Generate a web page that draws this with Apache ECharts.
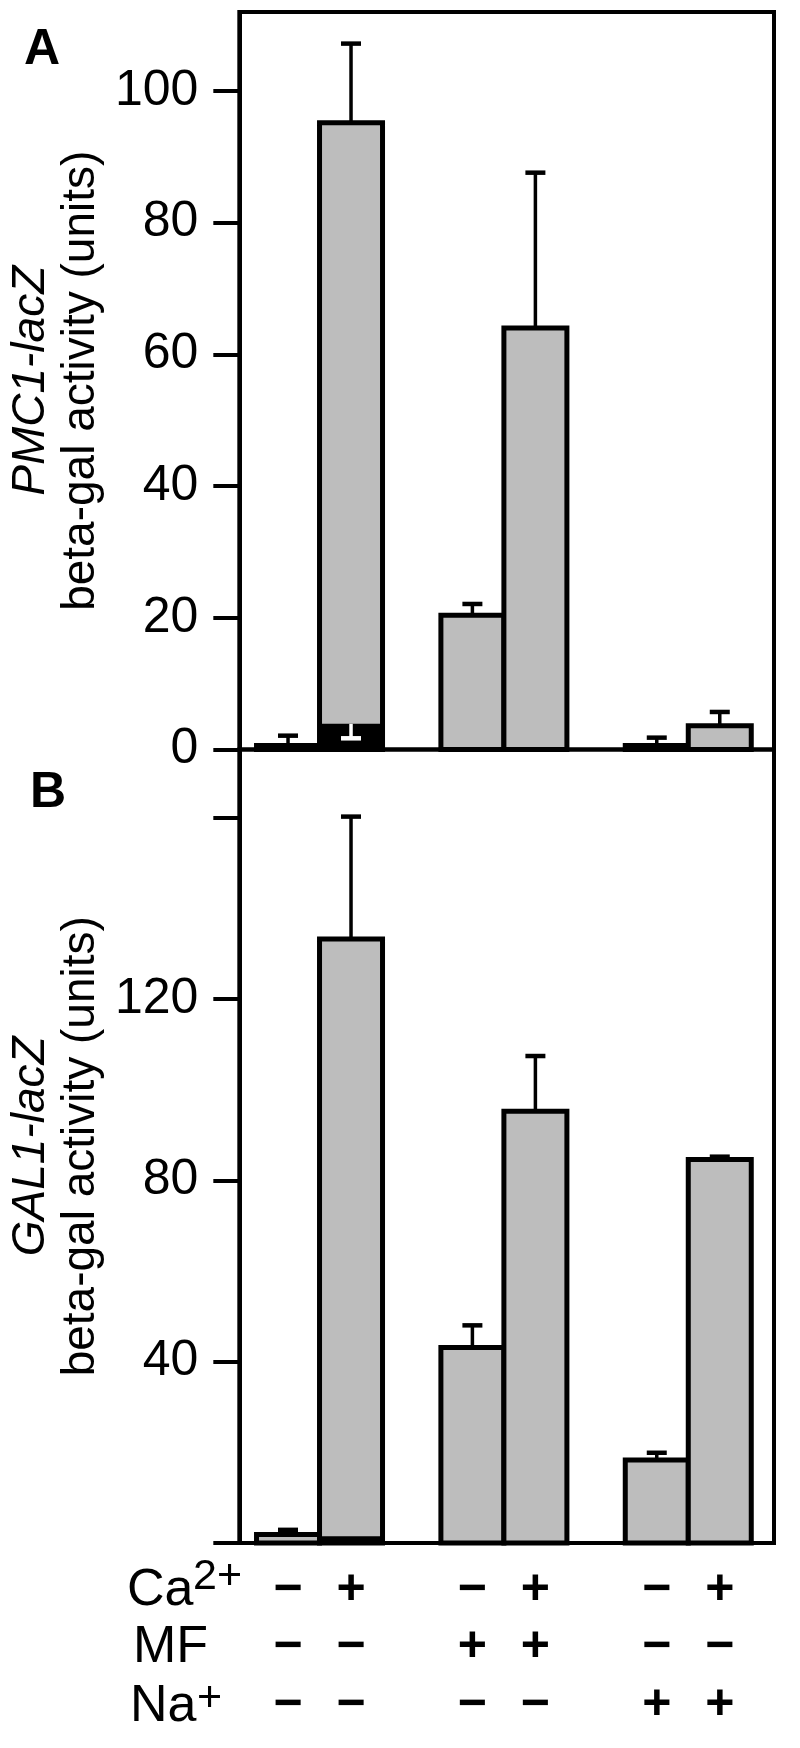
<!DOCTYPE html>
<html><head><meta charset="utf-8">
<script src="https://cdn.jsdelivr.net/npm/echarts@6/dist/echarts.min.js"></script>
<style>html,body{margin:0;padding:0;background:#fff}#c{width:800px;height:1748px}</style>
</head><body><div id="c"></div>
<script>
// ---------- data ----------
const groups = [1, 2, 3];
// panel A: PMC1-lacZ
const pmcNoCa = [0.6, 20.4, 0.6];
const pmcNoCaErr = [1.5, 1.7, 1.2];
const pmcCa = [95.2, 64.0, 3.6];
const pmcCaErr = [12.0, 23.6, 2.1];
const pmcCaDark = [3.9, null, null];
const pmcCaDarkErr = [2.2, null, null];
// panel B: GAL1-lacZ
const galNoCa = [1.9, 43.1, 18.3];
const galNoCaErr = [1.0, 4.9, 1.6];
const galCa = [133.2, 95.2, 84.6];
const galCaErr = [27.0, 12.2, 0.6];
const galCaDark = [1.5, null, null];
// axis ticks
const pmcTicks = [0, 20, 40, 60, 80, 100];
const galTicks = [0, 40, 80, 120, 160];
const galTickLabels = [40, 80, 120];
// condition table
const caRow = ['\u2212', '+', '\u2212', '+', '\u2212', '+'];
const mfRow = ['\u2212', '\u2212', '+', '+', '\u2212', '\u2212'];
const naRow = ['\u2212', '\u2212', '\u2212', '\u2212', '+', '+'];

// ---------- style ----------
const FONT = 'Liberation Sans, Arial, Helvetica, sans-serif';
const BAR_W = 63;
const CAP = 20;
const GRAY = '#bdbdbd';

function pairs(vals, errs) {
  const out = [];
  groups.forEach((g, i) => { if (vals[i] != null) out.push([g, vals[i], errs ? (errs[i] == null ? 0 : errs[i]) : 0]); });
  return out;
}

// side: -1 = left bar of pair, +1 = right bar of pair
function barSeries(ax, vals, side) {
  return {
    type: 'custom', xAxisIndex: ax, yAxisIndex: ax, z: 2, clip: false, silent: true,
    data: pairs(vals, null),
    renderItem: function (params, api) {
      const x = api.value(0), v = api.value(1);
      const top = api.coord([x, v]);
      const bot = api.coord([x, 0]);
      const left = side < 0 ? top[0] - BAR_W : top[0];
      return { type: 'rect', shape: { x: left, y: top[1], width: BAR_W, height: bot[1] - top[1] },
        style: { fill: GRAY, stroke: '#000', lineWidth: 5 } };
    }
  };
}

function darkSeries(ax, vals) {
  return {
    type: 'custom', xAxisIndex: ax, yAxisIndex: ax, z: 4, clip: false, silent: true,
    data: pairs(vals, null),
    renderItem: function (params, api) {
      const x = api.value(0), v = api.value(1);
      const top = api.coord([x, v]);
      const bot = api.coord([x, 0]);
      return { type: 'rect', shape: { x: top[0], y: top[1], width: BAR_W, height: bot[1] - top[1] }, style: { fill: '#000' } };
    }
  };
}

function errSeries(ax, vals, errs, side, color, dir) {
  return {
    type: 'custom', xAxisIndex: ax, yAxisIndex: ax, z: 5, clip: false, silent: true,
    data: pairs(vals, errs),
    renderItem: function (params, api) {
      const x = api.value(0), v = api.value(1), e = api.value(2);
      if (!e) return null;
      const base = api.coord([x, v]);
      const tip = api.coord([x, v + dir * e]);
      const cx = base[0] + side * BAR_W / 2;
      return { type: 'group', children: [
        { type: 'line', shape: { x1: cx, y1: base[1], x2: cx, y2: tip[1] }, style: { stroke: color, lineWidth: 3.5 } },
        { type: 'line', shape: { x1: cx - CAP / 2, y1: tip[1], x2: cx + CAP / 2, y2: tip[1] }, style: { stroke: color, lineWidth: 4.5 } }
      ]};
    }
  };
}

const signRows = [caRow, mfRow, naRow];
const signOffsets = [47, 104, 162];
const signSeries = {
  type: 'custom', xAxisIndex: 1, yAxisIndex: 1, z: 5, clip: false, silent: true,
  data: groups.map(g => [g]),
  renderItem: function (params, api) {
    const g = api.value(0);
    const base = api.coord([g, 0]);
    const children = [];
    [0, 1].forEach(side => {
      const k = params.dataIndex * 2 + side;
      const cx = base[0] + (side ? 1 : -1) * BAR_W / 2;
      signRows.forEach((row, r) => {
        children.push({ type: 'text', x: cx, y: base[1] + signOffsets[r],
          style: { text: row[k], fill: '#000', font: 'bold 50px ' + FONT, align: 'center', verticalAlign: 'middle' } });
      });
    });
    return { type: 'group', children: children };
  }
};

function yAxisCfg(gridIdx, max, ticks, labels, title) {
  return {
    type: 'value', gridIndex: gridIdx, min: 0, max: max, interval: gridIdx ? 40 : 20,
    axisLine: { show: true, lineStyle: { color: '#000', width: 4 } },
    axisTick: { show: true, length: 26, lineStyle: { color: '#000', width: 4 }, customValues: ticks },
    axisLabel: { show: true, margin: 41, color: '#000', fontSize: 50, fontFamily: FONT, customValues: labels },
    splitLine: { show: false },
    name: '{i|' + title + '}\n{n|beta-gal activity (units)}',
    nameLocation: 'middle', nameRotate: 90, nameGap: 123,
    nameTextStyle: { color: '#000', fontFamily: FONT, rich: {
      i: { fontStyle: 'italic', fontSize: 46, lineHeight: 50, fontFamily: FONT, color: '#000' },
      n: { fontSize: 46, lineHeight: 50, fontFamily: FONT, color: '#000' } } }
  };
}

function xAxisCfg(gridIdx) {
  return { type: 'value', gridIndex: gridIdx, min: 0.565, max: 3.465,
    axisLine: { show: false }, axisTick: { show: false }, axisLabel: { show: false }, splitLine: { show: false } };
}

const chart = echarts.init(document.getElementById('c'), null, { renderer: 'canvas' });
chart.setOption({
  backgroundColor: '#fff',
  animation: false,
  grid: [
    { left: 239, top: 12, width: 535, height: 737.5, show: true, borderColor: '#000', borderWidth: 4, backgroundColor: 'transparent' },
    { left: 239, top: 749.5, width: 535, height: 793.5, show: true, borderColor: '#000', borderWidth: 4, backgroundColor: 'transparent' }
  ],
  xAxis: [xAxisCfg(0), xAxisCfg(1)],
  yAxis: [
    yAxisCfg(0, 112, pmcTicks, pmcTicks, 'PMC1-lacZ'),
    yAxisCfg(1, 175, galTicks, galTickLabels, 'GAL1-lacZ')
  ],
  series: [
    barSeries(0, pmcNoCa, -1), barSeries(0, pmcCa, 1),
    darkSeries(0, pmcCaDark),
    errSeries(0, pmcNoCa, pmcNoCaErr, -1, '#000', 1),
    errSeries(0, pmcCa, pmcCaErr, 1, '#000', 1),
    errSeries(0, pmcCaDark, pmcCaDarkErr, 1, '#fff', -1),
    barSeries(1, galNoCa, -1), barSeries(1, galCa, 1),
    darkSeries(1, galCaDark),
    errSeries(1, galNoCa, galNoCaErr, -1, '#000', 1),
    errSeries(1, galCa, galCaErr, 1, '#000', 1),
    signSeries
  ],
  graphic: [
    { type: 'text', x: 42, y: 50, style: { text: 'A', font: 'bold 50px ' + FONT, fill: '#000', align: 'center', verticalAlign: 'middle' } },
    { type: 'text', x: 48, y: 793, style: { text: 'B', font: 'bold 50px ' + FONT, fill: '#000', align: 'center', verticalAlign: 'middle' } },
    { type: 'text', x: 127, y: 1591, style: { text: 'Ca', font: '52px ' + FONT, fill: '#000', align: 'left', verticalAlign: 'middle' } },
    { type: 'text', x: 193, y: 1577, style: { text: '2+', font: '43px ' + FONT, fill: '#000', align: 'left', verticalAlign: 'middle' } },
    { type: 'text', x: 133, y: 1648, style: { text: 'MF', font: '52px ' + FONT, fill: '#000', align: 'left', verticalAlign: 'middle' } },
    { type: 'text', x: 130, y: 1707, style: { text: 'Na', font: '52px ' + FONT, fill: '#000', align: 'left', verticalAlign: 'middle' } },
    { type: 'text', x: 197, y: 1699, style: { text: '+', font: '43px ' + FONT, fill: '#000', align: 'left', verticalAlign: 'middle' } }
  ]
});
</script></body></html>
